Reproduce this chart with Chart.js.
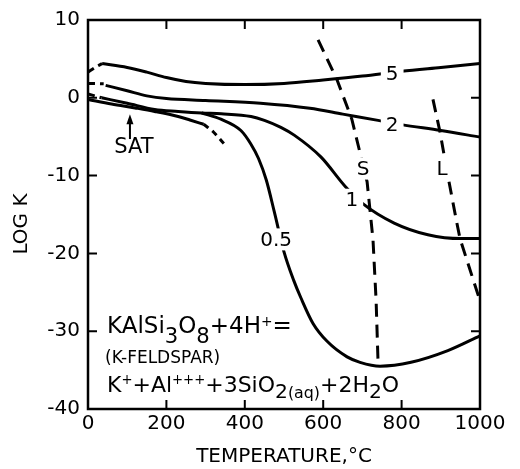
<!DOCTYPE html>
<html lang="en">
<head>
<meta charset="UTF-8">
<title>K-feldspar dissolution, log K vs temperature</title>
<script src="https://cdn.jsdelivr.net/npm/chart.js@4"></script>
<style>
  html, body { margin: 0; padding: 0; background: #fff; }
  #wrap { width: 520px; height: 469px; }
</style>
</head>
<body>
<div id="wrap"><canvas id="chart" width="520" height="469"></canvas></div>
<script>
// temperature (deg C) and log K
// curve labelled 5
const t5Dash = [0, 18, 36];
const k5Dash = [3.3, 3.9, 4.4];
const t5 = [36, 100, 150, 200, 250, 300, 400, 500, 600, 700, 800, 900, 1000];
const k5 = [4.4, 3.9, 3.3, 2.6, 2.1, 1.85, 1.7, 1.85, 2.3, 2.8, 3.4, 3.9, 4.4];
// curve labelled 2
const t2Dash = [0, 40];
const k2Dash = [1.85, 1.8];
const t2 = [45, 100, 150, 200, 300, 440, 566, 650, 740, 800, 900, 1000];
const k2 = [1.6, 0.9, 0.25, -0.1, -0.35, -0.7, -1.35, -2.1, -2.9, -3.45, -4.2, -5.05];
// common start of curves 1 and 0.5
const tLowDash = [0, 35];
const kLowDash = [0.5, 0.0];
// curve labelled 1
const t1 = [35, 100, 170, 230, 290, 340, 416, 450, 492, 526, 594, 658, 701, 781, 867, 952, 1000];
const k1 = [0.0, -0.7, -1.5, -1.75, -1.95, -2.05, -2.4, -2.9, -3.8, -4.8, -7.6, -11.5, -13.6, -16.1, -17.6, -18.1, -18.1];
// curve labelled 0.5 (branches off curve 1 near 290 C)
const tHalf = [290, 339, 390, 415, 435, 455, 475, 500, 525, 543, 574, 610, 661, 694, 745, 824, 918, 1000];
const kHalf = [-1.95, -2.75, -4.2, -5.9, -7.8, -10.6, -14.6, -19.8, -23.5, -25.7, -29.0, -31.3, -33.3, -34.0, -34.5, -34.0, -32.5, -30.6];
// saturation curve (SAT)
const tSat = [0, 60, 120, 170, 230, 260, 295];
const kSat = [-0.2, -0.8, -1.3, -1.75, -2.4, -2.85, -3.4];
const tSatDash = [295, 320, 347];
const kSatDash = [-3.4, -4.4, -5.9];
// dashed boundaries S and L
const tS = [587, 635, 673, 712, 727, 735, 740];
const kS = [7.45, 2.35, -2.75, -10.8, -18.2, -26.1, -34.1];
const tL = [880, 898, 916, 941, 949, 1000];
const kL = [-0.2, -4.4, -9.5, -16.1, -18.1, -26.1];

// curve labels (placed in data units)
const curveLabels = ['5', '2', '1', '0.5', 'S', 'L'];
const labelT = [776, 776, 673, 480, 702, 903];
const labelK = [3.1, -3.5, -13.1, -18.2, -9.1, -9.1];
// SAT annotation
const satT = 117, satK = -6.3;
const satArrowT = 107, satArrowFrom = -5.3, satArrowTo = -2.1;

const xTicks = [0, 200, 400, 600, 800, 1000];
const yTicks = [10, 0, -10, -20, -30, -40];

const fam = '"DejaVu Sans", sans-serif';

function pts(ts, ks) {
  return ts.map((t, i) => ({ x: t, y: ks[i] }));
}
function curve(ts, ks, dash, smooth) {
  return {
    data: pts(ts, ks),
    showLine: true,
    borderColor: '#000',
    borderWidth: 3,
    borderDash: dash || [],
    pointRadius: 0,
    cubicInterpolationMode: smooth ? 'monotone' : 'default',
    tension: smooth ? 0.4 : 0
  };
}

// equation runs: [text, kind]
const eq1 = [['KAlSi', 'n'], ['3', 'sub'], ['O', 'n'], ['8', 'sub'], ['+4H', 'n'], ['+', 'sup'], ['=', 'n']];
const eq3 = [['K', 'n'], ['+', 'sup'], ['+Al', 'n'], ['+++', 'sup'], ['+3SiO', 'n'], ['2', 'sub'], ['(aq)', 'subs'],
             ['+2H', 'n'], ['2', 'sub'], ['O', 'n']];

function drawRuns(ctx, runs, x, base, size, subOff, supOff) {
  ctx.textAlign = 'left';
  ctx.textBaseline = 'alphabetic';
  runs.forEach(([txt, kind]) => {
    let s = size, y = base;
    if (kind === 'sub') { s = size * 0.92; y = base + subOff; }
    if (kind === 'subs') { s = size * 0.72; y = base + subOff; }
    if (kind === 'sup') { s = size * 0.6; y = base + supOff; }
    ctx.font = s + 'px ' + fam;
    ctx.fillText(txt, x, y);
    x += ctx.measureText(txt).width;
  });
}

const decor = {
  id: 'decor',
  afterDatasetsDraw(chart) {
    const { ctx, chartArea: a, scales: { x, y } } = chart;
    ctx.save();

    // curve labels sitting in gaps of the lines
    ctx.font = '20px ' + fam;
    ctx.textAlign = 'center';
    ctx.textBaseline = 'middle';
    curveLabels.forEach((txt, i) => {
      const px = x.getPixelForValue(labelT[i]);
      const py = y.getPixelForValue(labelK[i]);
      const w = ctx.measureText(txt).width + 10;
      ctx.fillStyle = '#fff';
      ctx.fillRect(px - w / 2, py - 11, w, 22);
      ctx.fillStyle = '#000';
      ctx.fillText(txt, px, py + 1);
    });

    // SAT arrow
    const ax = x.getPixelForValue(satArrowT);
    const ay0 = y.getPixelForValue(satArrowFrom);
    const ay1 = y.getPixelForValue(satArrowTo);
    ctx.strokeStyle = '#000';
    ctx.lineWidth = 2;
    ctx.beginPath();
    ctx.moveTo(ax, ay0);
    ctx.lineTo(ax, ay1 + 6);
    ctx.stroke();
    ctx.beginPath();
    ctx.moveTo(ax, ay1);
    ctx.lineTo(ax - 3.5, ay1 + 10);
    ctx.lineTo(ax + 3.5, ay1 + 10);
    ctx.closePath();
    ctx.fill();
    ctx.font = '21px ' + fam;
    ctx.textAlign = 'center';
    ctx.fillText('SAT', x.getPixelForValue(satT), y.getPixelForValue(satK) + 1);

    // reaction
    ctx.fillStyle = '#000';
    drawRuns(ctx, eq1, 107, 333, 23, 10, -7);
    drawRuns(ctx, [['(K-FELDSPAR)', 'n']], 105, 363, 17, 0, 0);
    drawRuns(ctx, eq3, 107, 392, 22, 6, -8);

    // frame with inward ticks
    ctx.lineWidth = 2.5;
    ctx.strokeRect(a.left, a.top, a.right - a.left, a.bottom - a.top);
    ctx.lineWidth = 2;
    const tl = 9;
    xTicks.slice(1, -1).forEach(v => {
      const px = x.getPixelForValue(v);
      ctx.beginPath();
      ctx.moveTo(px, a.bottom); ctx.lineTo(px, a.bottom - tl);
      ctx.moveTo(px, a.top); ctx.lineTo(px, a.top + tl);
      ctx.stroke();
    });
    yTicks.slice(1, -1).forEach(v => {
      const py = y.getPixelForValue(v);
      ctx.beginPath();
      ctx.moveTo(a.left, py); ctx.lineTo(a.left + tl, py);
      ctx.moveTo(a.right, py); ctx.lineTo(a.right - tl, py);
      ctx.stroke();
    });

    // y title
    ctx.translate(22, 224);
    ctx.rotate(-Math.PI / 2);
    ctx.font = '20px ' + fam;
    ctx.textAlign = 'center';
    ctx.textBaseline = 'middle';
    ctx.fillText('LOG K', 0, 0);
    ctx.restore();
  }
};

new Chart(document.getElementById('chart'), {
  type: 'scatter',
  data: {
    datasets: [
      curve(t5Dash, k5Dash, [7, 5], true),
      curve(t5, k5, null, true),
      curve(t2Dash, k2Dash, [7, 5], true),
      curve(t2, k2, null, true),
      curve(tLowDash, kLowDash, [7, 5], true),
      curve(t1, k1, null, true),
      curve(tHalf, kHalf, null, true),
      curve(tSat, kSat, null, true),
      curve(tSatDash, kSatDash, [6, 5], true),
      curve(tS, kS, [13, 8], false),
      curve(tL, kL, [13, 8], false)
    ]
  },
  options: {
    responsive: false,
    animation: false,
    devicePixelRatio: 1,
    layout: { padding: { left: 0, right: 40, top: 17, bottom: 0 } },
    plugins: { legend: { display: false }, tooltip: { enabled: false } },
    scales: {
      x: {
        type: 'linear',
        min: 0,
        max: 1000,
        afterFit: s => { s.height = 60; },
        afterBuildTicks: s => { s.ticks = xTicks.map(v => ({ value: v })); },
        grid: { display: false, drawTicks: false },
        border: { display: false },
        ticks: { color: '#000', padding: 3, font: { family: fam, size: 20 }, callback: v => String(v) },
        title: {
          display: true,
          text: 'TEMPERATURE,°C',
          color: '#000',
          padding: { top: 0, bottom: 0 },
          font: { family: fam, size: 20 }
        }
      },
      y: {
        min: -40,
        max: 10,
        afterFit: s => { s.width = 88; },
        afterBuildTicks: s => { s.ticks = yTicks.map(v => ({ value: v })); },
        grid: { display: false, drawTicks: false },
        border: { display: false },
        ticks: { color: '#000', padding: 8, font: { family: fam, size: 20 }, callback: v => String(v) }
      }
    }
  },
  plugins: [decor]
});
</script>
</body>
</html>
